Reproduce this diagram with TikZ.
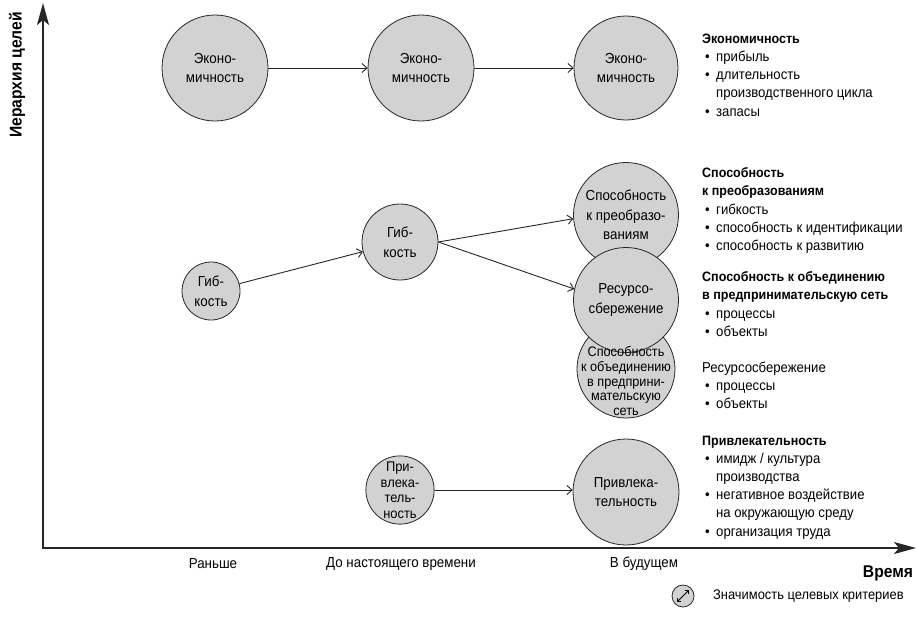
\documentclass[tikz,border=0pt]{standalone}
\usepackage{fontspec}
\setmainfont{Liberation Sans}[FakeStretch=0.92]
\usetikzlibrary{arrows.meta}
\newcommand\bul{\makebox[14pt][l]{\hspace*{3pt}\textbullet}}
\newcommand\indnt{\hspace*{14pt}}
\newcommand\hdf{\bfseries\fontsize{13.6}{18}\selectfont}
\begin{document}
\begin{tikzpicture}[x=1pt,y=-1pt,
  circ/.style={circle, draw=black!85, fill=gray!35, line width=0.8pt, inner sep=0pt, align=center, font=\fontsize{14.5}{19.5}\selectfont},
  link/.style={draw=black!85, line width=0.9pt, -{Straight Barb[length=5pt,width=9pt]}},
  axis/.style={line width=1.8pt, draw=black!85, line join=miter},
  info/.style={anchor=north west, inner sep=0pt, align=left, font=\fontsize{14.3}{18.2}\selectfont},
  lab/.style={inner sep=0pt, font=\fontsize{14.5}{16}\selectfont},
  ttl/.style={inner sep=0pt, font=\bfseries\fontsize{17}{18}\selectfont}]
\useasboundingbox (0,0) rectangle (917,630);

% axes
\coordinate (o) at (43,548);
\coordinate (ytip) at (43,3);
\coordinate (xtip) at (916,548);
\draw[axis, {Stealth[length=22pt,width=12pt,inset=5pt]}-{Stealth[length=22pt,width=12pt,inset=5pt]}] (ytip) -- (o) -- (xtip);
\node[ttl, rotate=90] (ty) at (17,75) {Иерархия целей};
\node[ttl] (tx) at (888,573) {Время};
\node[lab] (t1) at (213,564) {Раньше};
\node[lab] (t2) at (401,564) {До настоящего времени};
\node[lab] (t3) at (644,564) {В будущем};

% circles
\node[circ, minimum size=106pt] (e1) at (215,68) {Эконо-\\мичность};
\node[circ, minimum size=106pt] (e2) at (421,68) {Эконо-\\мичность};
\node[circ, minimum size=104pt] (e3) at (626,68) {Эконо-\\мичность};
\node[circ, minimum size=58pt] (g1) at (211,291) {Гиб-\\кость};
\node[circ, minimum size=76pt] (g2) at (400,242) {Гиб-\\кость};
\node[circ, minimum size=98pt] (sn) at (626,369) {};
\node[circ, minimum size=105pt] (s) at (626,215) {Способность\\к преобразо-\\ваниям};
\node[circ, minimum size=105pt] (r) at (626,300) {Ресурсо-\\сбережение};
\node[inner sep=0pt, align=center, font=\fontsize{13.8}{14.6}\selectfont] (snt) at (626,381) {Способность\\к объединению\\в предприни-\\мательскую\\сеть};
\node[circ, minimum size=60pt, font=\fontsize{14}{15.5}\selectfont] (p1) at (400,490) {При-\\влека-\\тель-\\ность};
\node[circ, minimum size=106pt] (p2) at (626,492) {Привлека-\\тельность};

% connectors
\draw[link] (e1) -- (e2);
\draw[link] (e2) -- (e3);
\draw[link] (g1) -- (g2);
\draw[link] (g2.east) -- (s.184);
\draw[link] (g2.east) -- (r.168);
\draw[link] (p1.east) -- (p1.east -| p2.west);

% right column
\node[info] (b1) at (702,33.5) {{\hdf Экономичность}\\\bul прибыль\\\bul длительность\\\indnt производственного цикла\\\bul запасы};
\node[info] (b2) at (702,167.5) {{\hdf Способность}\\{\hdf к преобразованиям}\\\bul гибкость\\\bul способность к идентификации\\\bul способность к развитию};
\node[info] (b3) at (702,271.5) {{\hdf Способность к объединению}\\{\hdf в предпринимательскую сеть}\\\bul процессы\\\bul объекты};
\node[info] (b4) at (702,361.5) {Ресурсосбережение\\\bul процессы\\\bul объекты};
\node[info] (b5) at (702,435.5) {{\hdf Привлекательность}\\\bul имидж / культура\\\indnt производства\\\bul негативное воздействие\\\indnt на окружающую среду\\\bul организация труда};

% legend
\node[circle, draw=black!85, fill=gray!35, line width=0.8pt, minimum size=22pt, inner sep=0pt] (lg) at (683,596) {};
\draw[line width=0.9pt, shorten <=2.5pt, shorten >=2.5pt, {Straight Barb[length=3pt,width=6pt]}-{Straight Barb[length=3pt,width=6pt]}] (lg.-135) -- (lg.45);
\node[inner sep=0pt, font=\fontsize{14}{15}\selectfont, anchor=west] (lt) at (713,596) {Значимость целевых критериев};
\end{tikzpicture}
\end{document}
